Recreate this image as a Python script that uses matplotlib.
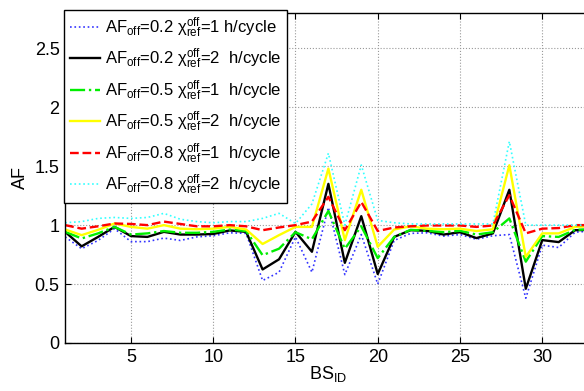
import matplotlib
matplotlib.use("Agg")
import matplotlib.pyplot as plt

plt.rcParams['font.family'] = ['Liberation Sans', 'DejaVu Sans']
plt.rcParams['mathtext.default'] = 'regular'

# data
bs_id = list(range(1, 34))
af02_x1 = [0.90, 0.80, 0.87, 0.97, 0.86, 0.86, 0.89, 0.87, 0.90, 0.91, 0.935, 0.93,
           0.53, 0.60, 0.90, 0.60, 1.15, 0.58, 0.92, 0.50, 0.87, 0.93, 0.935, 0.907,
           0.92, 0.88, 0.91, 0.92, 0.38, 0.83, 0.81, 0.94, 0.95]
af02_x2 = [0.943, 0.82, 0.90, 0.985, 0.907, 0.90, 0.943, 0.92, 0.92, 0.925, 0.955, 0.943,
           0.624, 0.71, 0.943, 0.774, 1.35, 0.68, 1.076, 0.585, 0.90, 0.957, 0.952, 0.92,
           0.94, 0.89, 0.93, 1.30, 0.46, 0.873, 0.856, 0.957, 0.96]
af05_x1 = [0.943, 0.887, 0.93, 0.985, 0.92, 0.93, 0.95, 0.935, 0.935, 0.943, 0.963, 0.95,
           0.745, 0.80, 0.94, 0.88, 1.12, 0.80, 0.99, 0.72, 0.90, 0.96, 0.952, 0.94,
           0.952, 0.92, 0.94, 1.057, 0.69, 0.907, 0.90, 0.96, 0.965]
af05_x2 = [0.963, 0.915, 0.96, 1.014, 0.985, 0.97, 1.0, 0.97, 0.965, 0.97, 0.985, 0.963,
           0.84, 0.915, 0.985, 0.985, 1.48, 0.873, 1.30, 0.816, 0.963, 0.99, 0.97, 0.965,
           0.97, 0.95, 0.965, 1.508, 0.73, 0.93, 0.93, 0.985, 0.99]
af08_x1 = [1.0, 0.97, 0.99, 1.014, 1.01, 1.0, 1.03, 1.01, 0.99, 0.99, 1.0, 0.99,
           0.957, 0.98, 1.0, 1.03, 1.24, 0.957, 1.197, 0.95, 0.98, 0.99, 0.997, 0.997,
           0.997, 0.985, 0.997, 1.254, 0.93, 0.97, 0.975, 1.0, 1.0]
af08_x2 = [1.02, 1.03, 1.057, 1.065, 1.057, 1.065, 1.10, 1.05, 1.03, 1.02, 1.03, 1.03,
           1.057, 1.10, 1.014, 1.18, 1.61, 1.0, 1.51, 1.04, 1.02, 1.01, 1.01, 1.01,
           1.01, 1.01, 1.01, 1.71, 1.0, 1.0, 1.0, 1.0, 1.0]

labels = [
    r'AF$_{off}$=0.2 $\chi_{ref}^{off}$=1 h/cycle',
    r'AF$_{off}$=0.2 $\chi_{ref}^{off}$=2  h/cycle',
    r'AF$_{off}$=0.5 $\chi_{ref}^{off}$=1  h/cycle',
    r'AF$_{off}$=0.5 $\chi_{ref}^{off}$=2  h/cycle',
    r'AF$_{off}$=0.8 $\chi_{ref}^{off}$=1  h/cycle',
    r'AF$_{off}$=0.8 $\chi_{ref}^{off}$=2  h/cycle',
]

fig = plt.figure(figsize=(5.84, 3.91), dpi=100)
ax = fig.add_axes([0.1116, 0.1228, 0.9014, 0.844])

ax.plot(bs_id, af02_x1, ':', color='#3333ff', lw=1.2, label=labels[0])
ax.plot(bs_id, af02_x2, '-', color='black', lw=1.7, label=labels[1])
ax.plot(bs_id, af05_x1, '-.', color='#00ee00', lw=1.7, label=labels[2])
ax.plot(bs_id, af05_x2, '-', color='#ffff00', lw=1.7, label=labels[3])
ax.plot(bs_id, af08_x1, '--', color='#ff0000', lw=1.7, label=labels[4])
ax.plot(bs_id, af08_x2, ':', color='#33ffff', lw=1.2, label=labels[5])

ax.set_xlim(1, 33)
ax.set_ylim(0, 2.8)
ax.set_xticks([5, 10, 15, 20, 25, 30])
ax.set_yticks([0, 0.5, 1, 1.5, 2, 2.5])
ax.set_yticklabels(['0', '0.5', '1', '1.5', '2', '2.5'])
ax.tick_params(direction='in', top=True, right=True, labelsize=13, length=4, pad=4)
ax.grid(True, linestyle=':', color='#999999', lw=0.8)
for s in ax.spines.values():
    s.set_linewidth(1.0)

ax.set_xlabel(r'BS$_{ID}$', fontsize=13, labelpad=-1)
ax.set_ylabel('AF', fontsize=13, labelpad=4)

leg = ax.legend(loc='upper left', bbox_to_anchor=(-0.002, 1.01), fontsize=12,
                frameon=True, fancybox=False, framealpha=1, edgecolor='black',
                labelspacing=0.42, handlelength=1.8, handletextpad=0.3,
                borderpad=0.35, borderaxespad=0)
leg.get_frame().set_linewidth(1.0)

fig.savefig('out.png', dpi=100)
